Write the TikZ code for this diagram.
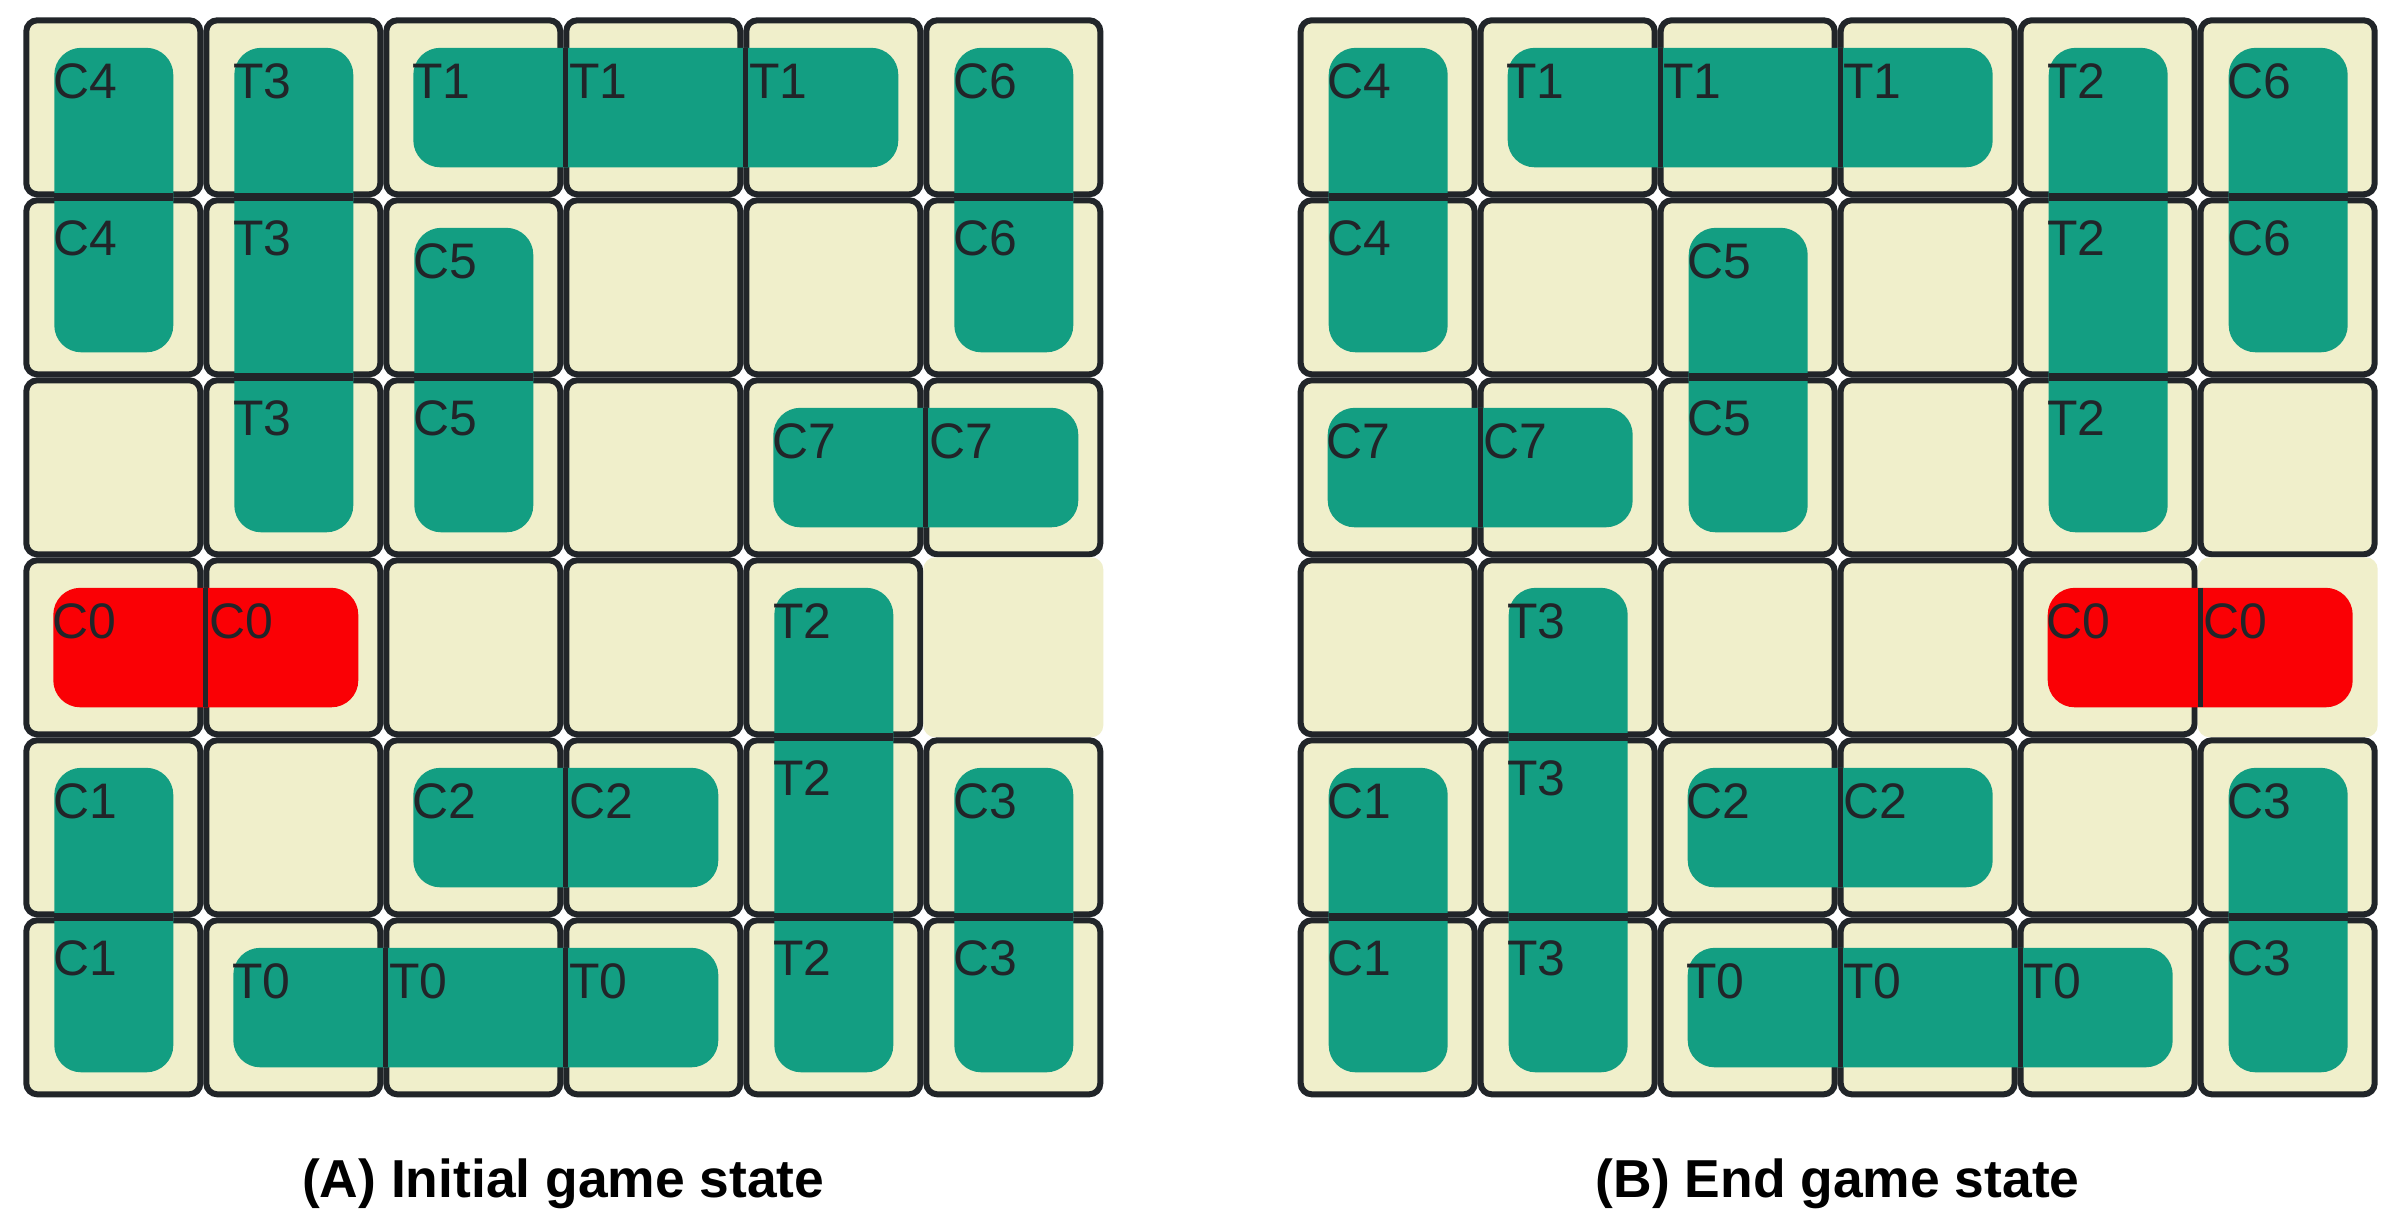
\documentclass[tikz,border=0pt]{standalone}
\usepackage{fontspec}
\setmainfont{Liberation Sans}
\definecolor{cellcream}{HTML}{F0EFCB}
\definecolor{boardline}{HTML}{212529}
\definecolor{cargreen}{HTML}{139E82}
\definecolor{carred}{HTML}{FA0005}
\newcommand{\carfont}{\fontsize{14.2}{16}\selectfont}
\newcommand{\capfont}{\fontsize{15.2}{18}\selectfont\bfseries}
\tikzset{
  cell/.style={draw=boardline, fill=cellcream, line width=0.06cm, rounded corners=0.11cm},
  exitcell/.style={fill=cellcream, rounded corners=0.12cm},
  carlabel/.style={anchor=base west, inner sep=0pt, text=boardline, font=\carfont},
  hsep/.style={draw=boardline, line width=0.05cm},
  vsep/.style={draw=boardline, line width=0.08cm},
  caption/.style={anchor=base, inner sep=0pt, text=black, font=\capfont},
}
% one 6x6 board, left edge at \bx
\newcommand{\board}{%
  \foreach \ci in {0,...,5}{%
    \foreach \ri in {0,...,5}{%
      \pgfmathsetmacro{\xl}{\bx+1.8*\ci}%
      \pgfmathsetmacro{\yt}{-0.173-1.8*\ri}%
      \ifnum\ci\ri=53
        \fill[exitcell] (\xl,\yt) rectangle ++(1.8,-1.8);
      \else
        \draw[cell] (\xl+0.03,\yt-0.03) rectangle ++(1.74,-1.74);
      \fi
    }%
  }%
}
% horizontal vehicle: col, row, length, label, colour
\newcommand{\hcar}[5]{%
  \pgfmathsetmacro{\xl}{\bx+1.8*#1}%
  \pgfmathsetmacro{\yt}{-0.173-1.8*#2}%
  \pgfmathtruncatemacro{\last}{#3-1}%
  \fill[#5, rounded corners=0.27cm] (\xl+0.30,\yt-0.305) rectangle (\xl+1.8*#3-0.25,\yt-1.5);
  \node[carlabel] (\bn-#4-0) at (\xl+0.28,\yt-0.815) {#4};
  \foreach \k in {1,...,\last}{%
    \draw[hsep] (\xl+1.8*\k+0.025,\yt-0.305) -- (\xl+1.8*\k+0.025,\yt-1.5);
    \node[carlabel] (\bn-#4-\k) at (\xl+1.8*\k+0.05,\yt-0.815) {#4};
  }%
}
% vertical vehicle: col, row, length, label, colour
\newcommand{\vcar}[5]{%
  \pgfmathsetmacro{\xl}{\bx+1.8*#1}%
  \pgfmathsetmacro{\yt}{-0.173-1.8*#2}%
  \pgfmathtruncatemacro{\last}{#3-1}%
  \fill[#5, rounded corners=0.27cm] (\xl+0.31,\yt-0.305) rectangle (\xl+1.5,\yt-1.8*#3+0.25);
  \node[carlabel] (\bn-#4-0) at (\xl+0.29,\yt-0.815) {#4};
  \foreach \k in {1,...,\last}{%
    \draw[vsep] (\xl+0.31,\yt-1.8*\k) -- (\xl+1.5,\yt-1.8*\k);
    \node[carlabel] (\bn-#4-\k) at (\xl+0.29,\yt-1.8*\k-0.58) {#4};
  }%
}
\begin{document}
\begin{tikzpicture}[x=1cm, y=1cm]
  \useasboundingbox[fill=white] (0,0) rectangle (24.04,-12.23);
  % (A) initial state
  \def\bx{0.233}\def\bn{A}
  \board
  \vcar{0}{0}{2}{C4}{cargreen}
  \vcar{1}{0}{3}{T3}{cargreen}
  \hcar{2}{0}{3}{T1}{cargreen}
  \vcar{5}{0}{2}{C6}{cargreen}
  \vcar{2}{1}{2}{C5}{cargreen}
  \hcar{4}{2}{2}{C7}{cargreen}
  \hcar{0}{3}{2}{C0}{carred}
  \vcar{4}{3}{3}{T2}{cargreen}
  \vcar{0}{4}{2}{C1}{cargreen}
  \hcar{2}{4}{2}{C2}{cargreen}
  \vcar{5}{4}{2}{C3}{cargreen}
  \hcar{1}{5}{3}{T0}{cargreen}
  \node[caption] (capA) at (5.633,-11.97) {(A) Initial game state};
  % (B) end state
  \def\bx{12.977}\def\bn{B}
  \board
  \vcar{0}{0}{2}{C4}{cargreen}
  \hcar{1}{0}{3}{T1}{cargreen}
  \vcar{4}{0}{3}{T2}{cargreen}
  \vcar{5}{0}{2}{C6}{cargreen}
  \vcar{2}{1}{2}{C5}{cargreen}
  \hcar{0}{2}{2}{C7}{cargreen}
  \vcar{1}{3}{3}{T3}{cargreen}
  \hcar{4}{3}{2}{C0}{carred}
  \vcar{0}{4}{2}{C1}{cargreen}
  \hcar{2}{4}{2}{C2}{cargreen}
  \vcar{5}{4}{2}{C3}{cargreen}
  \hcar{2}{5}{3}{T0}{cargreen}
  \node[caption] (capB) at (18.377,-11.97) {(B) End game state};
\end{tikzpicture}
\end{document}
